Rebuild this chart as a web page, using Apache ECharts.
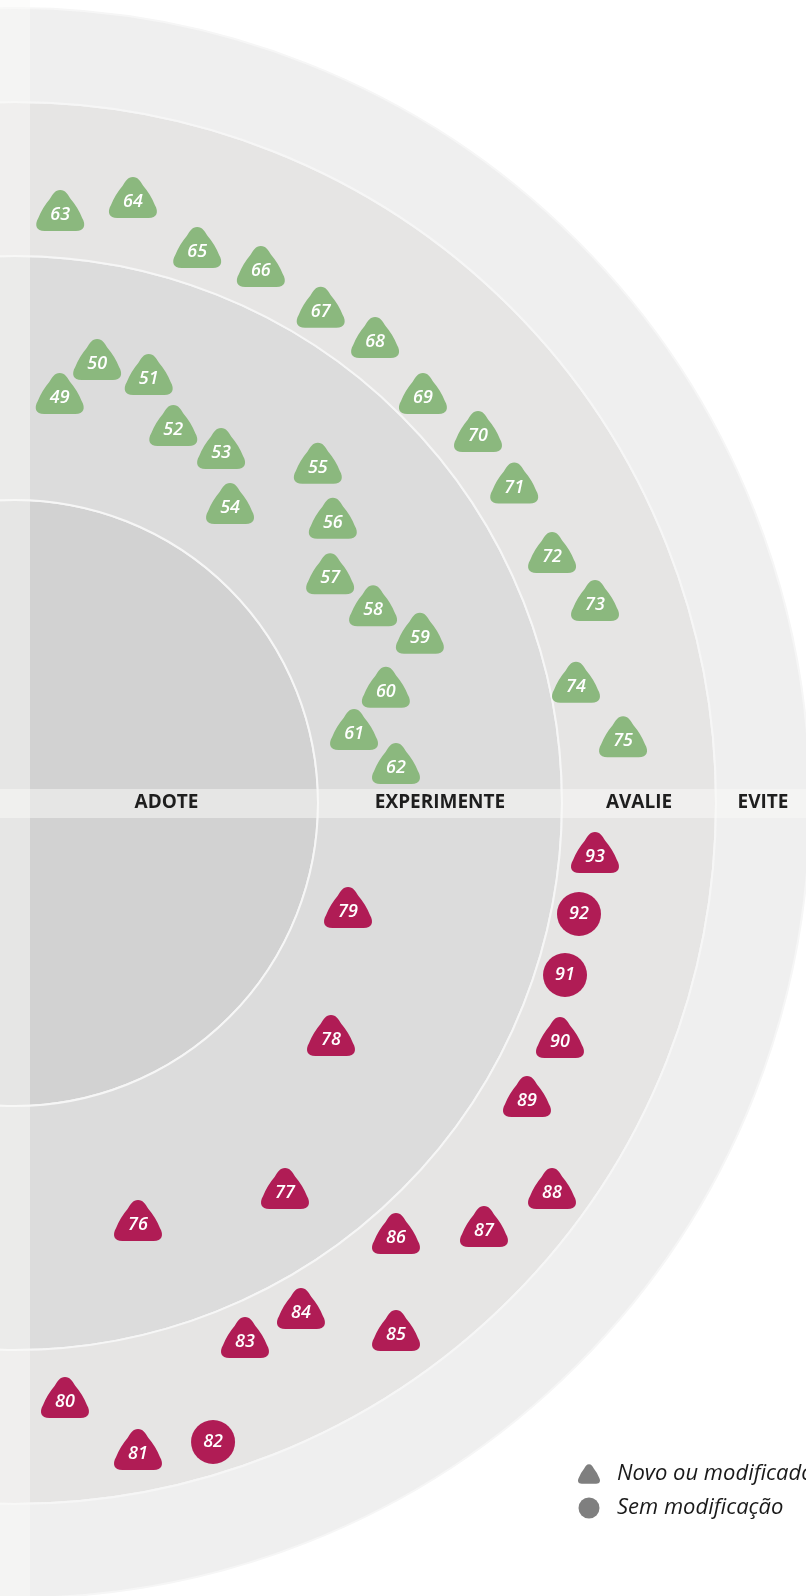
<!DOCTYPE html>
<html><head><meta charset="utf-8">
<script src="https://cdn.jsdelivr.net/npm/echarts@6/dist/echarts.min.js"></script>
<style>html,body{margin:0;padding:0;background:#fff}#c{width:806px;height:1596px}</style>
</head><body><div id="c"></div>
<script>
// Rings (names and outer edges, in radius-axis units)
const ringNames = ['ADOTE', 'EXPERIMENTE', 'AVALIE', 'EVITE'];
const ringEdges = [303, 547, 701, 795];

// Top quadrant (green) blips: id, radius, angle (deg, 0 = right, + = up)
const topIds    = [49, 50, 51, 52, 53, 54, 55, 56, 57, 58, 59, 60, 61, 62,
                   63, 64, 65, 66, 67, 68, 69, 70, 71, 72, 73, 74, 75];
const topRadius = [407.5, 446.6, 444.7, 405.1, 406.1, 365.0, 451.7, 423.7, 387.1, 406.7, 437.3, 387.2, 346.0, 382.6,
                   589.7, 612.5, 580.3, 586.1, 578.5, 584.9, 574.9, 590.8, 590.6, 590.7, 612.9, 572.9, 611.2];
const topAngle  = [83.7, 79.4, 72.5, 67.0, 59.5, 53.9, 47.9, 41.4, 35.5, 28.3, 22.2, 16.7, 11.5, 5.25,
                   85.6, 78.9, 71.7, 65.2, 58.1, 52.0, 44.8, 38.4, 32.3, 24.6, 18.85, 11.7, 5.8];
const topNew    = [1,1,1,1,1,1,1,1,1,1,1,1,1,1, 1,1,1,1,1,1,1,1,1,1,1,1,1];

// Bottom quadrant (crimson) blips
const botIds    = [76, 77, 78, 79, 80, 81, 82, 83, 84, 85, 86, 87, 88, 89, 90, 91, 92, 93];
const botRadius = [439.6, 474.3, 395.0, 350.4, 601.1, 662.5, 669.0, 586.0, 584.7, 654.4, 578.3, 634.9, 663.7, 592.4, 595.1, 576.3, 574.8, 582.5];
const botAngle  = [-73.75, -55.3, -36.87, -18.12, -85.23, -79.3, -72.78, -66.89, -60.72, -54.39, -48.79, -42.38, -35.99, -30.2, -23.68, -17.37, -11.13, -5.32];
const botNew    = [1, 1, 1, 1, 1, 1, 0, 1, 1, 1, 1, 1, 1, 1, 1, 0, 0, 1];

const legendNames = ['Novo ou modificado', 'Sem modificação'];

const GREEN = '#8bb87e', RED = '#b01c55';
const ringColors = ['#d2d2d2', '#dcdcdc', '#e6e5e4', '#efefef'];
const TRI = 'path://M24 0 C29 0 31 4 34 9 Q41 17.5 45 28 C49 35 47 41 39 41 L9 41 C1 41 -1 35 3 28 Q7 17.5 14 9 C17 4 19 0 24 0 Z';

const CENTER = [15, 803], RADIUS = 795;

function items(ids, rad, ang, flags, color, wantNew) {
  const out = [];
  ids.forEach((id, i) => {
    if (!!flags[i] === wantNew) out.push({ name: String(id), value: [rad[i], ang[i]], itemStyle: { color, opacity: 1 } });
  });
  return out;
}
const newData = items(topIds, topRadius, topAngle, topNew, GREEN, true)
  .concat(items(botIds, botRadius, botAngle, botNew, RED, true));
const sameData = items(topIds, topRadius, topAngle, topNew, GREEN, false)
  .concat(items(botIds, botRadius, botAngle, botNew, RED, false));

const ringSeries = ringEdges.map((e, i) => ({
  type: 'bar', coordinateSystem: 'polar', polarIndex: 0, stack: 'rings',
  data: [e - (i ? ringEdges[i - 1] : 0)],
  barCategoryGap: '0%', barWidth: '100%', silent: true, z: 1,
  itemStyle: { color: ringColors[i], borderColor: '#f6f6f6', borderWidth: 2, opacity: 1 }
}));

const labelBase = { show: true, position: 'inside', formatter: '{b}', color: '#fff',
  fontFamily: 'Open Sans', fontStyle: 'italic', fontWeight: 600, fontSize: 18 };

const chart = echarts.init(document.getElementById('c'), null, { renderer: 'canvas' });
chart.setOption({
  animation: false,
  backgroundColor: '#fff',
  polar: [
    { center: CENTER, radius: RADIUS },
    { center: CENTER, radius: RADIUS }
  ],
  angleAxis: [
    { polarIndex: 0, type: 'category', data: ['all'], startAngle: 180, boundaryGap: true,
      axisLine: { show: false }, axisTick: { show: false }, axisLabel: { show: false }, splitLine: { show: false } },
    { polarIndex: 1, type: 'value', min: -180, max: 180, startAngle: 180, clockwise: false,
      axisLine: { show: false }, axisTick: { show: false }, axisLabel: { show: false }, splitLine: { show: false } }
  ],
  radiusAxis: [
    { polarIndex: 0, type: 'value', min: 0, max: RADIUS,
      axisLine: { show: false }, axisTick: { show: false }, axisLabel: { show: false }, splitLine: { show: false } },
    { polarIndex: 1, type: 'value', min: 0, max: RADIUS,
      axisLine: { show: false }, axisTick: { show: false }, axisLabel: { show: false }, splitLine: { show: false } }
  ],
  graphic: {
    elements: [
      { type: 'rect', silent: true, z: 5, shape: { x: 0, y: 0, width: 30, height: 1596 },
        style: { fill: 'rgba(250,250,247,0.5)' } },
      { type: 'rect', silent: true, z: 5, shape: { x: 0, y: 789, width: 806, height: 29 },
        style: { fill: 'rgba(250,250,247,0.5)' } }
    ]
  },
  legend: {
    orient: 'vertical', left: 578, top: 1463, padding: 0, itemGap: 12,
    itemWidth: 22, itemHeight: 21, selectedMode: false,
    itemStyle: { color: '#7f7f7f', opacity: 1 },
    textStyle: { fontSize: 22, fontStyle: 'italic', color: '#1a1a1a', fontFamily: 'Open Sans', padding: [0, 0, 0, 12] },
    data: [{ name: legendNames[0], icon: TRI }, { name: legendNames[1], icon: 'circle' }]
  },
  series: ringSeries.concat([
    { name: 'ringLabels', type: 'scatter', coordinateSystem: 'polar', polarIndex: 1, z: 10, silent: true,
      symbolSize: 1, itemStyle: { color: 'rgba(0,0,0,0)', opacity: 1 },
      label: { show: true, position: 'inside', formatter: '{b}', color: '#1e1e1e', fontFamily: 'Open Sans',
               fontWeight: 'bold', fontSize: 19 },
      data: ringNames.map((n, i) => ({ name: n, value: [((i ? ringEdges[i - 1] : 0) + ringEdges[i]) / 2, 0] })) },
    { name: legendNames[0], type: 'scatter', coordinateSystem: 'polar', polarIndex: 1, z: 10,
      symbol: TRI, symbolSize: [48, 41], symbolOffset: [0, -4.5],
      itemStyle: { opacity: 1 },
      label: Object.assign({}, labelBase, { offset: [0, 4.5] }),
      data: newData },
    { name: legendNames[1], type: 'scatter', coordinateSystem: 'polar', polarIndex: 1, z: 10,
      symbol: 'circle', symbolSize: 44,
      itemStyle: { opacity: 1 },
      label: labelBase,
      data: sameData }
  ])
});
</script></body></html>
